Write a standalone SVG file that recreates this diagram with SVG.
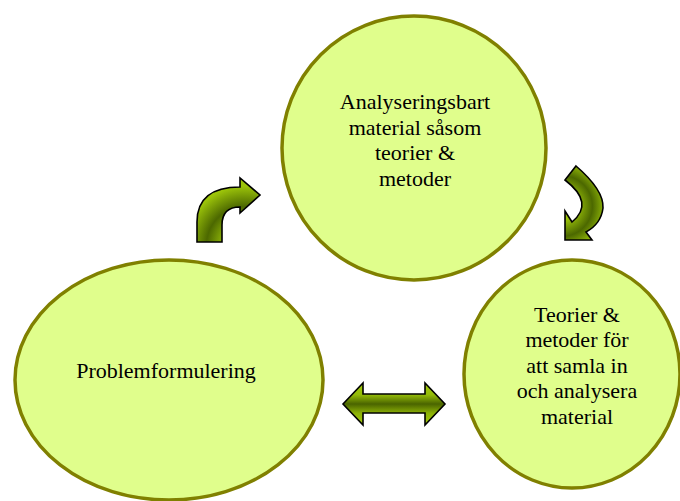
<svg xmlns="http://www.w3.org/2000/svg" width="680" height="501" viewBox="0 0 680 501">
<defs>
<style>
.node{fill:#e0fe8c;stroke:#808000;stroke-width:3.5}
.lbl{font-family:'Liberation Serif','Times New Roman',Times,serif;font-size:22px;fill:#000;text-anchor:middle}
.arr{stroke:#000;stroke-width:1.6;stroke-linejoin:miter}
</style>
<linearGradient id="gH" x1="0" y1="383" x2="0" y2="425" gradientUnits="userSpaceOnUse">
<stop offset="0" stop-color="#a4cc10"/>
<stop offset="0.28" stop-color="#94bb08"/>
<stop offset="0.5" stop-color="#4a6400"/>
<stop offset="0.72" stop-color="#8cb106"/>
<stop offset="1" stop-color="#a4cc10"/>
</linearGradient>
<radialGradient id="gL" cx="245" cy="245" r="62" gradientUnits="userSpaceOnUse">
<stop offset="0.3" stop-color="#9cc40a"/>
<stop offset="0.62" stop-color="#4c6800"/>
<stop offset="0.95" stop-color="#9cc40a"/>
</radialGradient>
<radialGradient id="gR" cx="562" cy="206" r="46" gradientUnits="userSpaceOnUse">
<stop offset="0.3" stop-color="#9cc40a"/>
<stop offset="0.66" stop-color="#4c6800"/>
<stop offset="0.98" stop-color="#9cc40a"/>
</radialGradient>
</defs>
<g id="node-top">
<circle class="node" cx="414" cy="148" r="132"/>
<text class="lbl" x="415" y="109">Analyseringsbart</text>
<text class="lbl" x="415" y="135">material såsom</text>
<text class="lbl" x="415" y="160">teorier &amp;</text>
<text class="lbl" x="415" y="186">metoder</text>
</g>
<g id="node-left">
<ellipse class="node" cx="169" cy="380" rx="154" ry="120"/>
<text class="lbl" x="166" y="378">Problemformulering</text>
</g>
<g id="node-right">
<ellipse class="node" cx="572" cy="374" rx="108" ry="114"/>
<text class="lbl" x="577" y="322">Teorier &amp;</text>
<text class="lbl" x="577" y="347">metoder för</text>
<text class="lbl" x="577" y="373">att samla in</text>
<text class="lbl" x="577" y="398">och analysera</text>
<text class="lbl" x="577" y="424">material</text>
</g>
<g id="connectors">
<path class="arr" fill="url(#gL)" d="M197,242 L197,222 Q197,187 240,187 L240,178 L260,195 L240,213 L240,207 Q222,207 222,225 L222,242 Z"/>
<path class="arr" fill="url(#gR)" d="M565,180 L576,166 Q604,190 603,208 Q601,224 586,232 L592,240 L565,240 L565,211 L572,222 Q595,203 565,180 Z"/>
<path class="arr" fill="url(#gH)" d="M343,404 L363,383 L363,394 L425,394 L425,383 L445,404 L425,425 L425,413 L363,413 L363,425 Z"/>
</g>
</svg>
